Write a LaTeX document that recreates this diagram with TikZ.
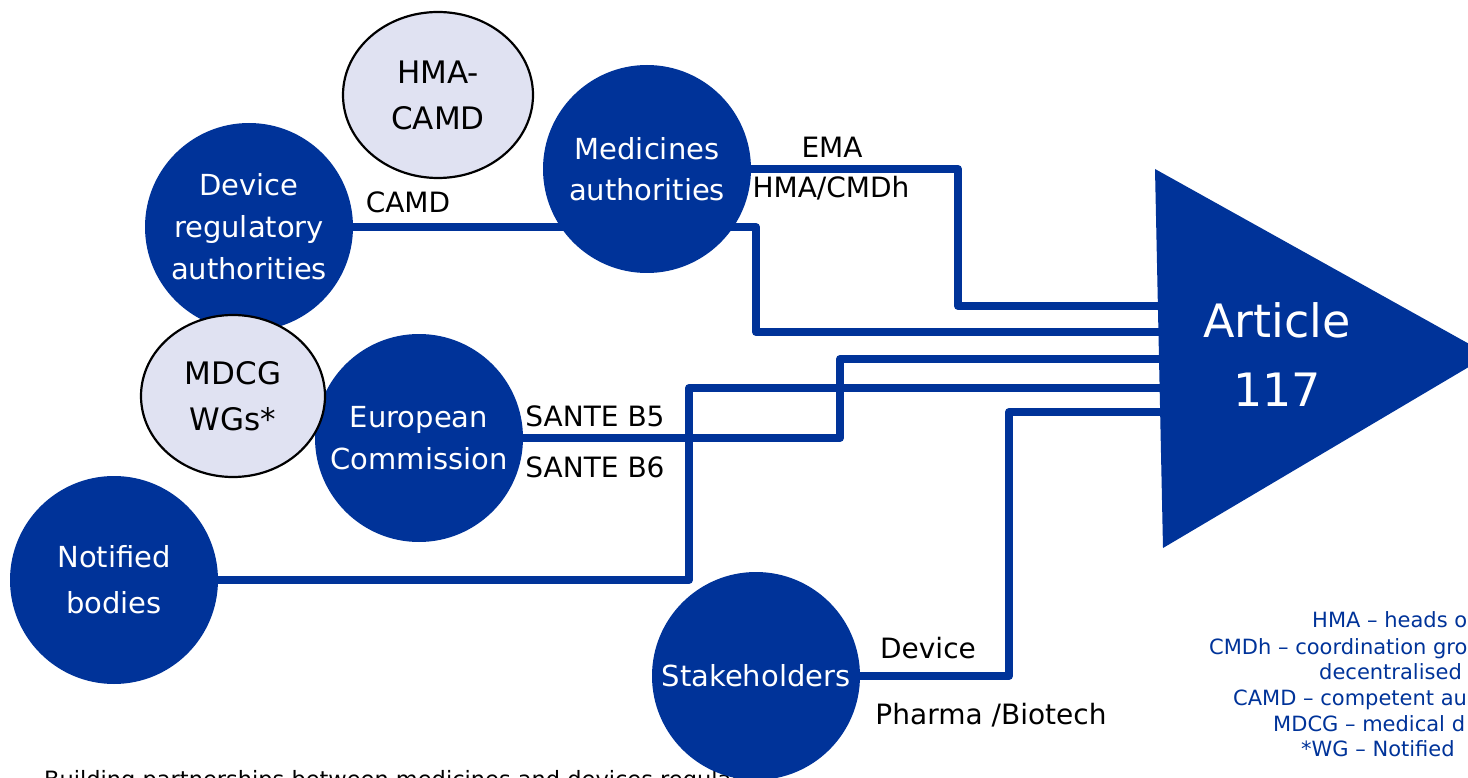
\documentclass[tikz,border=0pt]{standalone}
\usepackage{fontspec}
\setmainfont{DejaVu Sans}
\usetikzlibrary{shapes.geometric,backgrounds}
\definecolor{eublue}{RGB}{0,51,153}
\definecolor{lav}{RGB}{224,226,242}
\begin{document}
\begin{tikzpicture}[x=1pt,y=-1pt,
  bub/.style={circle, fill=eublue, text=white, minimum size=208pt, inner sep=0pt, align=center, font=\fontsize{29}{42}\selectfont},
  pale/.style={ellipse, draw=black, line width=2.2pt, fill=lav, text=black, inner sep=0pt, align=center, font=\fontsize{31}{46}\selectfont},
  conn/.style={draw=eublue, line width=8pt, line join=round},
  lbl/.style={text=black, font=\fontsize{28}{32}\selectfont, anchor=base, inner sep=0pt},
  legend/.style={text=eublue, font=\fontsize{21}{25}\selectfont, anchor=base west, inner sep=0pt}]
\useasboundingbox (0,0) rectangle (1468,778);
\clip (0,0) rectangle (1468,778);

% triangle
\fill[eublue] (1155,169) -- (1489,355) -- (1163,548) -- cycle;
\node[text=white, align=center, font=\fontsize{46}{69}\selectfont] (art) at (1277,355) {Article\\117};
\coordinate (triL) at (1175,355);

% circles
\node[bub] (dev) at (249,227) {Device\\regulatory\\authorities};
\node[bub] (ec) at (419,438) {European\\Commission};
\node[pale, minimum width=184pt, minimum height=162pt] (mdcg) at (233,396) {MDCG\\WGs*};
\node[pale, minimum width=190pt, minimum height=166pt] (hma) at (438,95) {HMA-\\CAMD};
\node[bub, font=\fontsize{29}{41}\selectfont] (med) at (647,169) {Medicines\\authorities};
\node[bub, font=\fontsize{29}{46}\selectfont] (nb) at (114,580) {Notified\\bodies};
\node[bub] (sh) at (756,676) {Stakeholders};

\begin{pgfonlayer}{background}
\node[anchor=base west, inner sep=0pt, font=\fontsize{22.5}{26}\selectfont] (cap) at (44,787.5) {Building partnerships between medicines and devices regulat};
\draw[conn] (med.east) -| (958,306) -- (958,306 -| triL);
\draw[conn] (dev.east) -- (756,227) -- (756,332) -- (756,332 -| triL);
\draw[conn] (ec.east) -| (840,359) -- (840,359 -| triL);
\draw[conn] (nb.east) -| (689,388) -- (689,388 -| triL);
\draw[conn] (sh.east) -| (1009,412) -- (1009,412 -| triL);
\end{pgfonlayer}

% labels
\node[lbl] (ema) at (832,158) {EMA};
\node[lbl] (hmacmdh) at (831,198) {HMA/CMDh};
\node[lbl] (camd) at (408,213) {CAMD};
\node[lbl] (b5) at (595,426) {SANTE B5};
\node[lbl] (b6) at (595,477) {SANTE B6};
\node[lbl] (devl) at (928,658) {Device};
\node[lbl] (pharma) at (991,724) {Pharma /Biotech};

% legend
\node[legend] (l1) at (1312,627) {HMA – heads o};
\node[legend] (l2) at (1209,654) {CMDh – coordination gro};
\node[legend] (l3) at (1319,679) {decentralised};
\node[legend] (l4) at (1233,705) {CAMD – competent au};
\node[legend] (l5) at (1273,731) {MDCG – medical d};
\node[legend] (l6) at (1301,756) {*WG – Notified};
\end{tikzpicture}
\end{document}
